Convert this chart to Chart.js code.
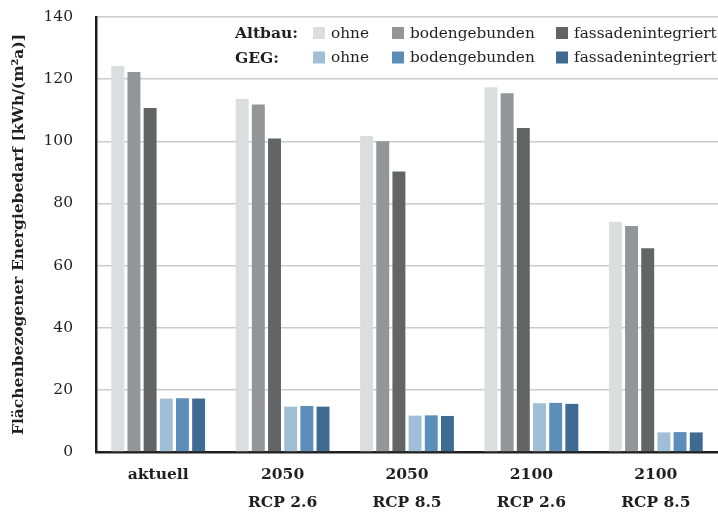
<!DOCTYPE html>
<html>
<head>
<meta charset="utf-8">
<script src="https://cdn.jsdelivr.net/npm/chart.js@4/dist/chart.umd.min.js"></script>
<style>
  html, body { margin: 0; padding: 0; background: #fff; }
  #wrap { width: 718px; height: 513px; }
</style>
</head>
<body>
<div id="wrap"><canvas id="chart"></canvas></div>
<script>
  "use strict";

  // Data
  var categories = [["aktuell"], ["2050", "RCP 2.6"], ["2050", "RCP 8.5"], ["2100", "RCP 2.6"], ["2100", "RCP 8.5"]];
  var seriesNames = ["ohne", "bodengebunden", "fassadenintegriert"];
  var groupNames = ["Altbau:", "GEG:"];

  var altbauOhne = [124.2, 113.6, 101.7, 117.4, 74.1];
  var altbauBoden = [122.3, 111.8, 100.0, 115.5, 72.7];
  var altbauFassade = [110.7, 100.9, 90.3, 104.3, 65.6];
  var gegOhne = [17.2, 14.6, 11.7, 15.7, 6.3];
  var gegBoden = [17.3, 14.8, 11.8, 15.8, 6.4];
  var gegFassade = [17.2, 14.6, 11.6, 15.5, 6.3];

  var yTicks = [0, 20, 40, 60, 80, 100, 120, 140];

  var greys = ["#dcdddf", "#939598", "#636466"];
  var blues = ["#a0bfd7", "#5b8eb9", "#3f6a91"];

  var FONT = "'DejaVu Serif', 'Liberation Serif', serif";

  var datasets = [
    { label: seriesNames[0], group: 0, data: altbauOhne, backgroundColor: greys[0] },
    { label: seriesNames[1], group: 0, data: altbauBoden, backgroundColor: greys[1] },
    { label: seriesNames[2], group: 0, data: altbauFassade, backgroundColor: greys[2] },
    { label: seriesNames[0], group: 1, data: gegOhne, backgroundColor: blues[0] },
    { label: seriesNames[1], group: 1, data: gegBoden, backgroundColor: blues[1] },
    { label: seriesNames[2], group: 1, data: gegFassade, backgroundColor: blues[2] }
  ];
  datasets.forEach(function (d) {
    d.categoryPercentage = 0.78;
    d.barPercentage = 0.8;
    d.borderWidth = 0;
  });

  // Legend with row labels "Altbau:" / "GEG:"
  var rowLegend = {
    id: "rowLegend",
    afterDatasetsDraw: function (chart) {
      var ctx = chart.ctx;
      var cols = [313, 392, 556];
      var rows = [33, 57.5];
      ctx.save();
      ctx.textBaseline = "middle";
      for (var r = 0; r < 2; r++) {
        ctx.font = "bold 15.5px " + FONT;
        ctx.fillStyle = "#231f20";
        ctx.fillText(groupNames[r], 235, rows[r] + 1);
        for (var c = 0; c < 3; c++) {
          var ds = chart.data.datasets[r * 3 + c];
          ctx.fillStyle = ds.backgroundColor;
          ctx.fillRect(cols[c], rows[r] - 6, 12, 12);
          ctx.font = "15.3px " + FONT;
          ctx.fillStyle = "#231f20";
          ctx.fillText(ds.label, cols[c] + 18, rows[r] + 1);
        }
      }
      ctx.restore();
    }
  };

  var ctx1 = document.getElementById("chart").getContext("2d");
  var myChart = new Chart(ctx1, {
    type: "bar",
    data: {
      labels: categories,
      datasets: datasets
    },
    plugins: [rowLegend],
    options: {
      responsive: true,
      maintainAspectRatio: false,
      animation: false,
      layout: { padding: { top: 17, right: 0, left: 0, bottom: 0 } },
      plugins: {
        legend: { display: false },
        tooltip: { enabled: false }
      },
      scales: {
        x: {
          grid: { display: false, drawTicks: false },
          border: { color: "#231f20", width: 2.5 },
          ticks: {
            padding: 9,
            color: "#231f20",
            font: { family: FONT, size: 15.5, weight: "bold", lineHeight: 1.8 }
          },
          afterFit: function (scale) { scale.height = 61; }
        },
        y: {
          min: 0,
          max: 140,
          afterBuildTicks: function (scale) {
            scale.ticks = yTicks.map(function (v) { return { value: v }; });
          },
          grid: { color: "#cbcbcb", lineWidth: 1.5, drawTicks: false },
          border: { color: "#231f20", width: 2.5 },
          ticks: {
            padding: 23,
            color: "#231f20",
            font: { family: FONT, size: 15.5 }
          },
          title: {
            display: true,
            text: "Flächenbezogener Energiebedarf [kWh/(m²a)]",
            color: "#231f20",
            padding: { top: 10 },
            font: { family: FONT, size: 15.5, weight: "bold" }
          },
          afterFit: function (scale) {
            scale.width = 96;
            scale.paddingTop = 0;
            scale.paddingBottom = 0;
          }
        }
      }
    }
  });
</script>
</body>
</html>
